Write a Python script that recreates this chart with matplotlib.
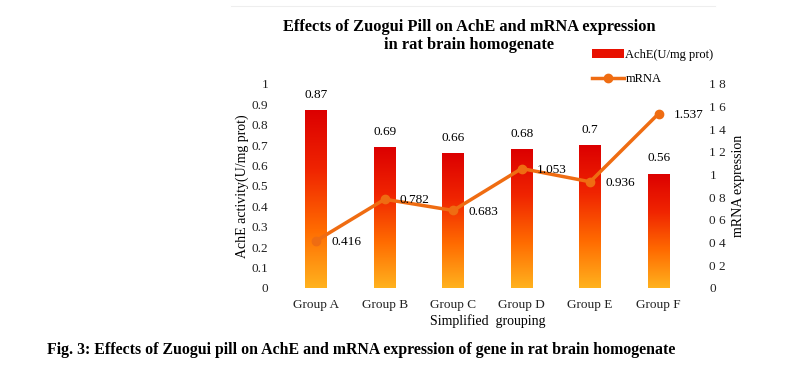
import numpy as np
import matplotlib.pyplot as plt
from matplotlib.colors import LinearSegmentedColormap
from matplotlib.patches import Patch
from matplotlib.lines import Line2D

# datos
grupos = ['Group A', 'Group B', 'Group C', 'Group D', 'Group E', 'Group F']
ache = [0.87, 0.69, 0.66, 0.68, 0.70, 0.56]
mrna = [0.416, 0.782, 0.683, 1.053, 0.936, 1.537]
ticks_izq = ['0', '0.1', '0.2', '0.3', '0.4', '0.5', '0.6', '0.7', '0.8', '0.9', '1']
ticks_der = ['0', '0 2', '0 4', '0 6', '0 8', '1', '1 2', '1 4', '1 6', '1 8']

plt.rcParams['font.family'] = ['Liberation Serif', 'DejaVu Serif']

fig = plt.figure(figsize=(7.9, 3.71), dpi=100)
ax = fig.add_axes([0.357, 0.224, 0.52, 0.55])
ax2 = ax.twinx()

x = np.arange(len(grupos))
ax.set_xlim(-0.5, len(grupos) - 0.5)
ax.set_ylim(0, 1)
ax2.set_ylim(0, 1.8)

# barras con degradado
cmap = LinearSegmentedColormap.from_list('grad', ['#ffb21e', '#ff6a00', '#f02400', '#dc0000'])
grad = np.linspace(0, 1, 256).reshape(-1, 1)
barras = ax.bar(x, ache, width=0.32, color='none', edgecolor='none')
for b in barras:
    im = ax.imshow(grad, cmap=cmap, aspect='auto', origin='lower',
                   extent=[b.get_x(), b.get_x() + b.get_width(), 0, b.get_height()], zorder=1)
    im.set_clip_path(b)
for xi, v in zip(x, ache):
    ax.text(xi, v + 0.045, '%g' % v, ha='center', va='bottom', fontsize=9.5)
ax.set_xlim(-0.5, len(grupos) - 0.5)
ax.set_ylim(0, 1)

# linea mRNA
ax2.plot(x, mrna, color='#ef6c12', lw=2.5, marker='o', ms=6, zorder=3)
for xi, v in zip(x, mrna):
    ax2.text(xi + 0.22, v - 0.01, '%g' % v, ha='left', va='center', fontsize=9.5)

# ejes
for a in (ax, ax2):
    for s in a.spines.values():
        s.set_visible(False)
    a.tick_params(length=0, labelsize=9.5, colors='#222222')
ax.set_yticks(np.linspace(0, 1, 11))
ax.set_yticklabels(ticks_izq)
ax2.set_yticks(np.linspace(0, 1.8, 10))
ax2.set_yticklabels(ticks_der)
ax.set_xticks(x)
ax.set_xticklabels(grupos)
ax.tick_params(axis='y', pad=10)
ax2.tick_params(axis='y', pad=12)
ax.tick_params(axis='x', pad=8)
ax.set_xlabel('Simplified  grouping', fontsize=10, labelpad=2)
ax.set_ylabel('AchE activity(U/mg prot)', fontsize=10, labelpad=2)
ax2.set_ylabel('mRNA expression', fontsize=10, labelpad=4)

# titulo (dos lineas separadas) y leyenda
fig.text(0.594, 0.927, 'Effects of Zuogui Pill on AchE and mRNA expression',
         ha='center', va='center', fontsize=11.8, fontweight='bold')
fig.text(0.594, 0.879, 'in rat brain homogenate',
         ha='center', va='center', fontsize=11.8, fontweight='bold')
h = [Patch(facecolor='#e81000'), Line2D([], [], color='#ef6c12', lw=2.5, marker='o', ms=6)]
fig.legend(h, ['AchE(U/mg prot)', 'mRNA'], loc='upper left', bbox_to_anchor=(0.741, 0.885),
           frameon=False, fontsize=9, handlelength=2.6, handletextpad=0.1, labelspacing=1.0,
           borderpad=0)

# borde tenue del grafico y pie de figura
fig.add_artist(Line2D([0.293, 0.905], [0.985, 0.985], color='#eeeeee', lw=0.8))
fig.text(0.059, 0.057, 'Fig. 3: Effects of Zuogui pill on AchE and mRNA expression of gene in rat brain homogenate',
         ha='left', va='center', fontsize=11.4, fontweight='bold')

fig.savefig('out.png', dpi=100)
